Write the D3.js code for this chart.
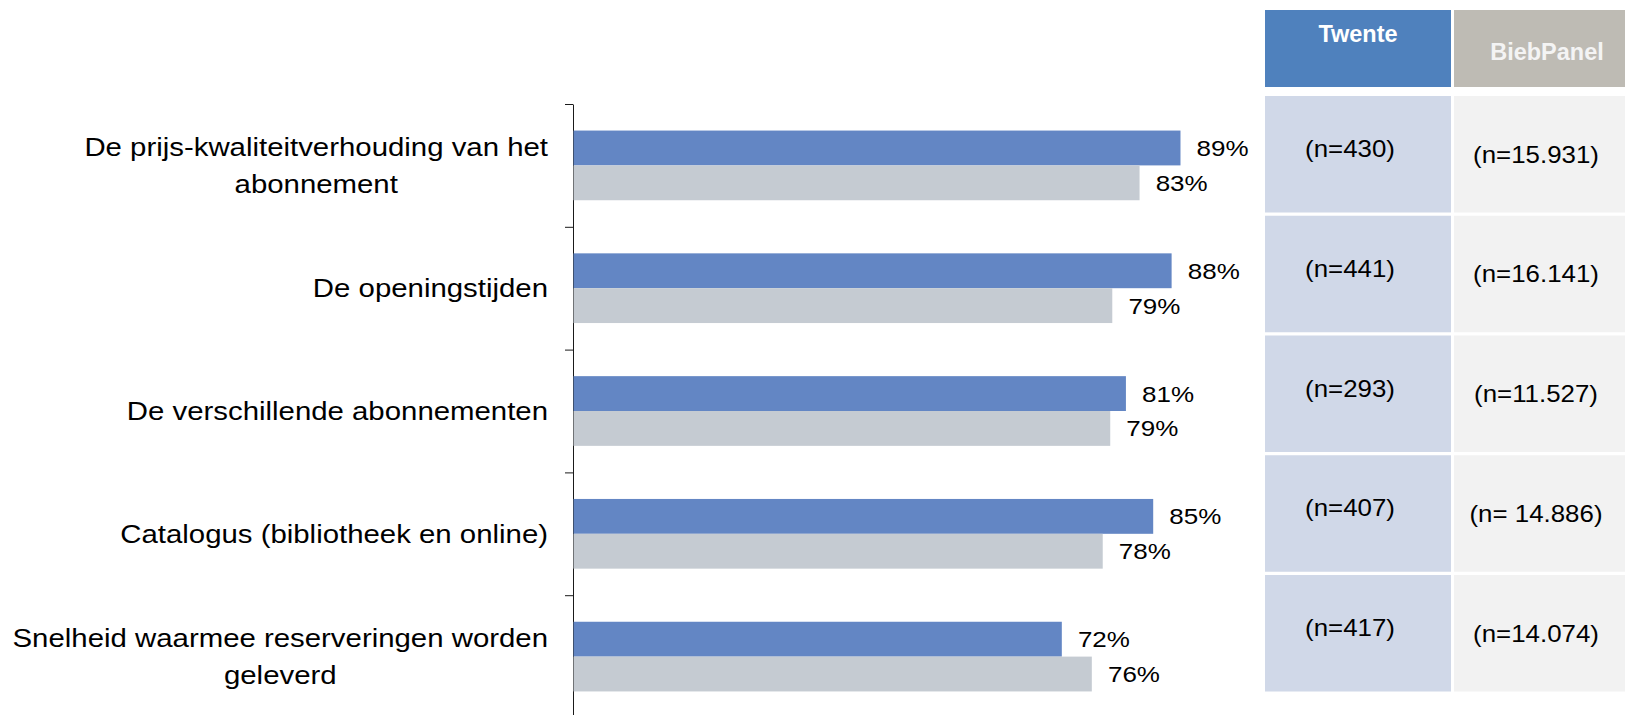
<!DOCTYPE html>
<html>
<head>
<meta charset="utf-8">
<script src="https://cdn.jsdelivr.net/npm/d3@7"></script>
<style>
  body { margin: 0; background: #fff; }
  svg { display: block; font-family: Arial, "Liberation Sans", sans-serif; }
</style>
</head>
<body>
<svg id="chart" width="1625" height="715"></svg>
<script>
// data
const categories = [
  "De prijs-kwaliteitverhouding van het abonnement",
  "De openingstijden",
  "De verschillende abonnementen",
  "Catalogus (bibliotheek en online)",
  "Snelheid waarmee reserveringen worden geleverd"
];
const twente = [0.89, 0.877, 0.81, 0.85, 0.716];
const biebPanel = [0.83, 0.79, 0.787, 0.776, 0.76];
const seriesNames = ["Twente", "BiebPanel"];
const twenteN = ["(n=430)", "(n=441)", "(n=293)", "(n=407)", "(n=417)"];
const biebPanelN = ["(n=15.931)", "(n=16.141)", "(n=11.527)", "(n= 14.886)", "(n=14.074)"];

const svg = d3.select("#chart");
const stretch = 1.166;   // the original is a bit wider than tall
const blue = "#6386c4", grey = "#c5cbd2";

// scales
const idx = d3.range(categories.length);
const y = d3.scaleBand().domain(idx).range([104, 718]);
const ySub = d3.scaleBand().domain([0, 1]).range([0, y.bandwidth()]).paddingOuter(0.762);
const x = d3.scaleLinear().domain([0, 1]).range([573, 1255]);
const yTick = d3.scaleLinear().domain([0, categories.length]).range([104, 718]);

// axis
const axis = svg.append("g")
  .attr("transform", `translate(${x(0)},0)`)
  .call(d3.axisLeft(yTick).tickValues(d3.range(categories.length)).tickSize(8).tickSizeOuter(0).tickFormat(""));
axis.selectAll("path, line").attr("stroke", "#1a1a1a").attr("stroke-width", 1);

// bars
const series = [twente, biebPanel];
const colors = [blue, grey];
series.forEach((vals, s) => {
  const g = svg.append("g");
  g.selectAll("rect").data(vals).join("rect")
    .attr("x", x(0) + 0.5)
    .attr("y", (d, i) => y(i) + ySub(s))
    .attr("width", d => x(d) - x(0))
    .attr("height", ySub.bandwidth())
    .attr("fill", colors[s]);

  const fs = 22.3;
  g.selectAll("g.lbl").data(vals).join("g")
    .attr("class", "lbl")
    .attr("transform", (d, i) => `translate(${x(d) + 16.6},${y(i) + ySub(s) + ySub.bandwidth() / 2 + 0.36 * fs}) scale(${stretch},1)`)
    .append("text")
    .attr("font-size", fs)
    .attr("fill", "#000")
    .text(d => d3.format(".0%")(d));
});

// category labels: right aligned block, lines centred
const labFs = 25.2, lineH = 36.5, maxW = 560, rightEdge = 548;
const labels = svg.append("g").selectAll("g").data(categories).join("g");
labels.each(function (c, i) {
  const g = d3.select(this);
  const probe = g.append("text").attr("font-size", labFs);
  const words = c.split(" ");
  const lines = [];
  let cur = [];
  words.forEach(w => {
    const test = cur.concat(w).join(" ");
    probe.text(test);
    if (cur.length && probe.node().getComputedTextLength() * stretch > maxW) {
      lines.push(cur.join(" "));
      cur = [w];
    } else cur.push(w);
  });
  lines.push(cur.join(" "));
  const widths = lines.map(l => { probe.text(l); return probe.node().getComputedTextLength() * stretch; });
  probe.remove();
  const cx = rightEdge - d3.max(widths) / 2;
  const cy = y(i) + y.bandwidth() / 2;
  lines.forEach((l, k) => {
    g.append("g")
      .attr("transform", `translate(${cx},${cy + (k - (lines.length - 1) / 2) * lineH + 0.36 * labFs}) scale(${stretch},1)`)
      .append("text")
      .attr("font-size", labFs)
      .attr("text-anchor", "middle")
      .attr("fill", "#000")
      .text(l);
  });
});

// table on the right
const colX = d3.scaleOrdinal().domain(seriesNames).range([1265, 1454]);
const colW = d3.scaleOrdinal().domain(seriesNames).range([186, 175]);
const headFill = d3.scaleOrdinal().domain(seriesNames).range(["#4f81bd", "#bebbb4"]);
const cellFill = d3.scaleOrdinal().domain(seriesNames).range(["#d0d8e8", "#f2f2f2"]);
const headTextX = d3.scaleOrdinal().domain(seriesNames).range([1358, 1547]);
const headTextY = d3.scaleOrdinal().domain(seriesNames).range([42, 60]);
const headTextFill = d3.scaleOrdinal().domain(seriesNames).range(["#ffffff", "#f4f4f4"]);
const cellTextX = d3.scaleOrdinal().domain(seriesNames).range([1350, 1536]);
const cellTextDy = d3.scaleOrdinal().domain(seriesNames).range([61, 66.5]);
const rowY = d3.scaleLinear().domain([0, categories.length]).range([96, 694.75]);
const rowH = rowY(1) - rowY(0) - 3.25;
const nTexts = [twenteN, biebPanelN];

const table = svg.append("g");
seriesNames.forEach((name, s) => {
  table.append("rect")
    .attr("x", colX(name)).attr("y", 10)
    .attr("width", colW(name)).attr("height", 77)
    .attr("fill", headFill(name));
  table.append("text")
    .attr("x", headTextX(name)).attr("y", headTextY(name))
    .attr("text-anchor", "middle")
    .attr("font-size", 23.5).attr("font-weight", "bold")
    .attr("fill", headTextFill(name))
    .text(name);

  table.append("g").selectAll("rect").data(nTexts[s]).join("rect")
    .attr("x", colX(name)).attr("y", (d, i) => rowY(i))
    .attr("width", colW(name)).attr("height", rowH)
    .attr("fill", cellFill(name));

  table.append("g").selectAll("g").data(nTexts[s]).join("g")
    .attr("transform", (d, i) => `translate(${cellTextX(name)},${rowY(i) + cellTextDy(name)}) scale(1.125,1)`)
    .append("text")
    .attr("font-size", 23)
    .attr("text-anchor", "middle")
    .attr("fill", "#000")
    .text(d => d);
});
</script>
</body>
</html>
